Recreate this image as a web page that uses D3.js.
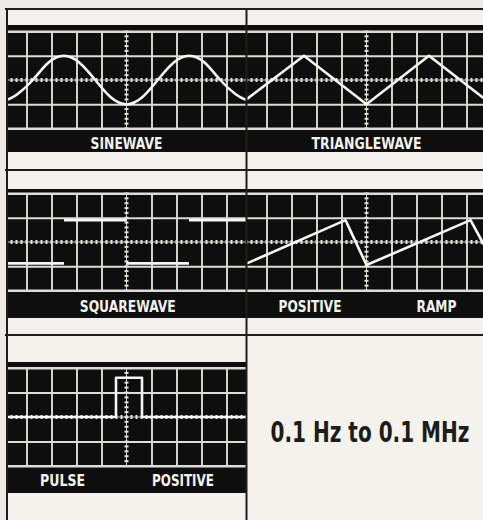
<!DOCTYPE html>
<html>
<head>
<meta charset="utf-8">
<script src="https://cdn.jsdelivr.net/npm/d3@7"></script>
<style>
body { margin: 0; background: #ebeae5; }
svg { display: block; }
</style>
</head>
<body>
<script>
// traces in screen divisions: x from the centre line, y from the centre line
var sineWave = [[-4.78,-0.82],[-4.38,-0.6],[-3.75,0],[-3.13,0.71],[-2.5,1],[-1.88,0.71],[-1.25,0],[-0.63,-0.71],[0,-1],[0.63,-0.71],[1.25,0],[1.88,0.71],[2.5,1],[3.13,0.71],[3.75,0],[4.38,-0.6],[4.78,-0.82]];
var triangleWave = [[-4.78,-0.78],[-2.5,1],[0,-1],[2.5,1],[4.78,-0.82]];
// square wave: only the flat parts show (start, end, level)
var squareWave = [[-4.78,-2.5,-0.88],[-2.5,0,0.9],[0,2.5,-0.88],[2.5,4.78,0.9]];
var rampWave = [[-4.78,-0.88],[-0.84,0.9],[0,-0.95],[4.16,0.9],[4.78,-0.27]];
var pulseWave = [[-4.78,0],[-0.42,0],[-0.42,1.6],[0.62,1.6],[0.62,0],[4.78,0]];

var gridCols = [-4,-3,-2,-1,1,2,3,4];
var gridRows = [-2,-1,1,2];

var panelLabels = [["SINEWAVE"],["TRIANGLEWAVE"],["SQUAREWAVE"],["POSITIVE","RAMP"],["PULSE","POSITIVE"]];
var rangeText = "0.1 Hz to 0.1 MHz";

var width = 483, height = 520;
var labelFont = "'DejaVu Sans Condensed', 'DejaVu Sans', sans-serif";

// rows: black screen top/bottom, grid top/bottom, label baseline
var rows = [
    {top: 25, gTop: 31.5, gBot: 128.5, bot: 152, base: 148.5},
    {top: 189, gTop: 193.5, gBot: 290.5, bot: 318, base: 312},
    {top: 362, gTop: 368, gBot: 466, bot: 493, base: 485.5}
];
var cols = [{x0: 7, x1: 246}, {x0: 247, x1: 486}];

// label placement (centre in divisions, drawn width)
var labelPos = [[[0,72]],[[0,110]],[[0.05,96]],[[-2.26,63],[2.8,40]],[[-2.56,45],[2.26,62]]];

var panels = [
    {row: 0, col: 0, kind: "line", data: sineWave, curve: d3.curveNatural},
    {row: 0, col: 1, kind: "line", data: triangleWave, curve: d3.curveLinear},
    {row: 1, col: 0, kind: "steps", data: squareWave},
    {row: 1, col: 1, kind: "line", data: rampWave, curve: d3.curveLinear},
    {row: 2, col: 0, kind: "line", data: pulseWave, curve: d3.curveLinear}
];

var svg = d3.select("body")
    .append("svg")
        .attr("width", width)
        .attr("height", height);

svg.append("rect").attr("width", width).attr("height", height).attr("fill", "#ebeae5");

// light paper inside the frame
svg.append("rect").attr("x", 7).attr("y", 9).attr("width", width).attr("height", 511).attr("fill", "#f3f2ed");

// text squeezed sideways to a width, centred on cx
function placeText(parent, t, cx, base, w, size, fill) {
    var el = parent.append("text")
        .attr("text-anchor", "middle")
        .attr("fill", fill)
        .style("font-family", labelFont)
        .style("font-weight", "bold")
        .style("font-size", size + "px")
        .text(t);
    var len = el.node().getComputedTextLength();
    var sx = w / len;
    el.attr("transform", "translate(" + cx + "," + base + ") scale(" + sx + ",1)");
    return el;
}

panels.forEach(function(p, i) {
    var r = rows[p.row], c = cols[p.col];
    var x = d3.scaleLinear().domain([-4.78, 4.78]).range([c.x0, c.x1]);
    var y = d3.scaleLinear().domain([-2, 2]).range([r.gBot, r.gTop]);
    var g = svg.append("g");

    g.append("clipPath").attr("id", "clip" + i)
        .append("rect").attr("x", c.x0).attr("y", r.top).attr("width", c.x1 - c.x0).attr("height", r.bot - r.top);

    g.append("rect")
        .attr("x", c.x0).attr("y", r.top)
        .attr("width", c.x1 - c.x0).attr("height", r.bot - r.top)
        .attr("fill", "#0e0e0e");

    var inner = g.append("g").attr("clip-path", "url(#clip" + i + ")");

    // vertical grid lines
    var xAxis = d3.axisBottom(x).tickValues(gridCols).tickSize(-(r.gBot - r.gTop)).tickFormat("");
    var ax = inner.append("g").attr("transform", "translate(0," + r.gBot + ")").call(xAxis);
    ax.select(".domain").remove();
    ax.selectAll("line").attr("stroke", "#dcdcd8").attr("stroke-width", 1.9);

    // horizontal grid lines
    var yAxis = d3.axisLeft(y).tickValues(gridRows).tickSize(-(c.x1 - c.x0)).tickFormat("");
    var ay = inner.append("g").attr("transform", "translate(" + c.x0 + ",0)").call(yAxis);
    ay.select(".domain").remove();
    ay.selectAll("line").attr("stroke", "#dcdcd8").attr("stroke-width", 1.9);

    // centre lines with minor divisions
    inner.append("line").attr("x1", c.x0).attr("x2", c.x1).attr("y1", y(0)).attr("y2", y(0))
        .attr("stroke", "#cfcfcb").attr("stroke-width", 1);
    inner.append("line").attr("x1", x(0)).attr("x2", x(0)).attr("y1", r.gTop).attr("y2", r.gBot)
        .attr("stroke", "#cfcfcb").attr("stroke-width", 1);
    var minorX = d3.range(-24, 25).map(function(d) { return d / 5; });
    var minorY = d3.range(-10, 11).map(function(d) { return d / 5; });
    inner.selectAll(".mx").data(minorX).enter().append("line")
        .attr("x1", function(d) { return x(d); }).attr("x2", function(d) { return x(d); })
        .attr("y1", y(0) - 2).attr("y2", y(0) + 2)
        .attr("stroke", "#e2e2de").attr("stroke-width", 2);
    inner.selectAll(".my").data(minorY).enter().append("line")
        .attr("y1", function(d) { return y(d); }).attr("y2", function(d) { return y(d); })
        .attr("x1", x(0) - 2).attr("x2", x(0) + 2)
        .attr("stroke", "#e2e2de").attr("stroke-width", 2);

    // top and bottom grid border
    [r.gTop, r.gBot].forEach(function(v) {
        inner.append("line").attr("x1", c.x0).attr("x2", c.x1).attr("y1", v).attr("y2", v)
            .attr("stroke", "#dcdcd8").attr("stroke-width", 1.9);
    });

    // trace
    var line = d3.line().x(function(d) { return x(d[0]); }).y(function(d) { return y(d[1]); });
    if (p.kind == "steps") {
        inner.selectAll(".seg").data(p.data).enter().append("path")
            .attr("fill", "none").attr("stroke", "#f6f6f2").attr("stroke-width", 2.6)
            .attr("d", function(d) { return line([[d[0], d[2]], [d[1], d[2]]]); });
    } else {
        inner.append("path")
            .attr("fill", "none").attr("stroke", "#f6f6f2").attr("stroke-width", 2.6)
            .attr("stroke-linejoin", "round")
            .attr("d", line.curve(p.curve)(p.data));
    }

    // labels in the band under the grid
    panelLabels[i].forEach(function(t, k) {
        var pos = labelPos[i][k];
        placeText(g, t, x(pos[0]), r.base, pos[1], 15.5, "#f2f2ee");
    });
});

// frame lines
var dark = "#1d1d1b";
[9, 170, 335].forEach(function(v) {
    svg.append("line").attr("x1", 5).attr("x2", width).attr("y1", v).attr("y2", v)
        .attr("stroke", dark).attr("stroke-width", 2);
});
[7, 246.5].forEach(function(v) {
    svg.append("line").attr("x1", v).attr("x2", v).attr("y1", 8).attr("y2", height)
        .attr("stroke", dark).attr("stroke-width", 2);
});

// frequency range text
placeText(svg, rangeText, 370, 442, 199, 29, "#1c1c1a");
</script>
</body>
</html>
